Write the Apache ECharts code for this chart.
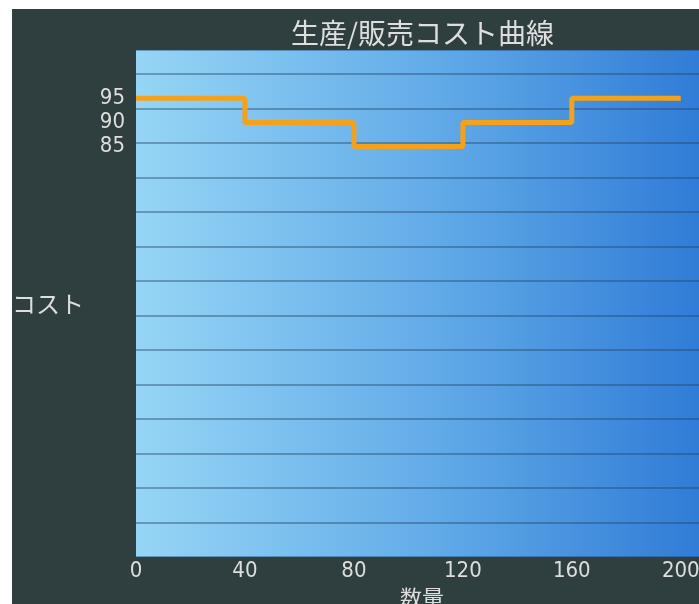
<!DOCTYPE html>
<html>
<head>
<meta charset="utf-8">
<script src="https://cdn.jsdelivr.net/npm/echarts@6/dist/echarts.min.js"></script>
<style>
  html, body { margin: 0; padding: 0; background: #ffffff; overflow: hidden; }
  #chart { position: absolute; left: 12px; top: 9px; width: 687px; height: 595px; }
</style>
</head>
<body>
<div id="chart"></div>
<script>
// Quantity steps along the x axis and the unit cost at each step
const quantities = [0, 40, 80, 120, 160, 200];
const costs = [95, 90, 85, 90, 95, 95];
// Cost values that carry a tick label
const labelledCosts = [85, 90, 95];
// Horizontal guide spacing on the cost axis
const guideStep = 100 / 14;

const textColor = '#dedede';
const numFont = '"Liberation Sans Narrow", "DejaVu Sans Condensed", "Roboto", sans-serif';
const cjkFont = '"Noto Sans CJK JP", "Noto Sans CJK SC", sans-serif';

const chart = echarts.init(document.getElementById('chart'), null, { renderer: 'canvas' });

chart.setOption({
  backgroundColor: '#2f3f3f',
  animation: false,
  title: {
    text: '生産/販売コスト曲線',
    left: 274,
    top: 5,
    textStyle: { color: textColor, fontSize: 28, fontWeight: 'normal', fontFamily: cjkFont }
  },
  grid: {
    left: 124,
    top: 41,
    width: 572,
    height: 507,
    outerBoundsMode: 'none',
    containLabel: false,
    show: true,
    borderWidth: 0,
    backgroundColor: {
      type: 'linear', x: 0, y: 0, x2: 1, y2: 0,
      colorStops: [
        { offset: 0, color: '#96d5f5' },
        { offset: 0.5, color: '#64ade9' },
        { offset: 1, color: '#2f7ad6' }
      ]
    }
  },
  xAxis: {
    type: 'value',
    min: 0,
    max: 210,
    interval: 40,
    name: '数量',
    nameLocation: 'middle',
    nameGap: 23,
    nameTextStyle: { color: textColor, fontSize: 22, fontFamily: cjkFont },
    axisLine: { show: false },
    axisTick: { show: false },
    splitLine: { show: false },
    axisLabel: {
      color: textColor,
      fontSize: 22,
      fontFamily: numFont,
      margin: 3,
      showMaxLabel: false
    }
  },
  yAxis: [
    {
      type: 'value',
      min: 0,
      max: 105,
      interval: 5,
      name: 'コスト',
      nameLocation: 'middle',
      nameRotate: 0,
      nameGap: 52,
      nameTextStyle: { color: textColor, fontSize: 24, fontFamily: cjkFont },
      axisLine: { show: false },
      axisTick: { show: false },
      splitLine: { show: false },
      axisLabel: {
        color: textColor,
        fontSize: 22,
        fontFamily: numFont,
        margin: 11,
        formatter: function (v) {
          return labelledCosts.indexOf(v) >= 0 ? String(v) : '';
        }
      }
    },
    {
      type: 'value',
      position: 'left',
      min: 0,
      max: 105,
      interval: guideStep,
      axisLine: { show: false },
      axisTick: { show: false },
      axisLabel: { show: false },
      splitLine: { show: true, lineStyle: { color: 'rgba(35, 70, 100, 0.55)', width: 1.5 } }
    }
  ],
  series: [
    {
      type: 'line',
      step: 'end',
      yAxisIndex: 0,
      data: quantities.map((q, i) => [q, costs[i]]),
      showSymbol: false,
      lineStyle: { color: '#f4a21c', width: 5 },
      itemStyle: { color: '#f4a21c' },
      z: 5
    }
  ]
});
</script>
</body>
</html>
